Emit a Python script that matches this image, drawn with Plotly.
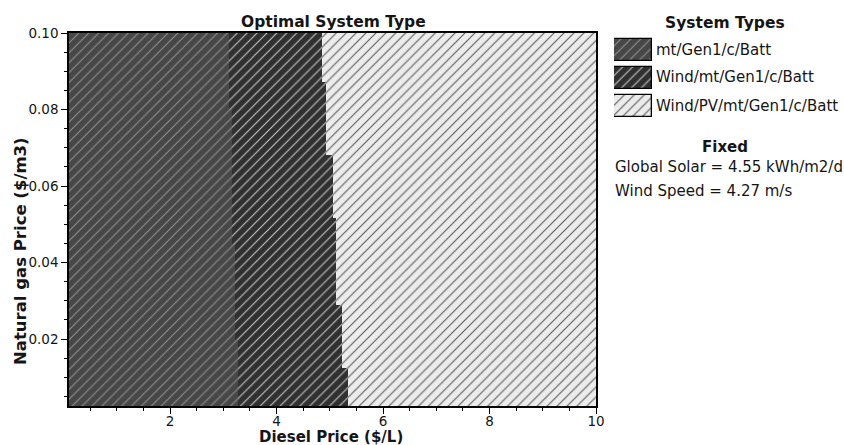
import plotly.graph_objects as go

# Sensitivity grid: natural gas price bands ($/m3), bottom to top
gas_band_edges = [0.0025, 0.0124, 0.0197, 0.0289, 0.0446, 0.0516, 0.0681, 0.0799, 0.0872, 0.10]
# Diesel price ($/L) at which Wind/mt/Gen1/c/Batt becomes optimal, per band
diesel_to_wind = [3.27, 3.27, 3.22, 3.22, 3.16, 3.16, 3.16, 3.10, 3.10]
# Diesel price ($/L) at which Wind/PV/mt/Gen1/c/Batt becomes optimal, per band
diesel_to_wind_pv = [5.34, 5.23, 5.23, 5.12, 5.12, 5.05, 4.93, 4.93, 4.85]

diesel_range = [0.1, 10]
gas_range = [0.0025, 0.10]
x_ticks = [2, 4, 6, 8, 10]
y_ticks = [0.02, 0.04, 0.06, 0.08, 0.10]
y_tick_text = ["0.02", "0.04", "0.06", "0.08", "0.10"]

system_types = ["mt/Gen1/c/Batt", "Wind/mt/Gen1/c/Batt", "Wind/PV/mt/Gen1/c/Batt"]
bg_colors = ["#474747", "#303030", "#ececec"]
hatch_colors = ["#8e8e8e", "#c4c4c4", "#5c5c5c"]

fixed_values = ["Global Solar = 4.55 kWh/m2/d", "Wind Speed = 4.27 m/s"]

W, H = 844, 445


def px(x):
    return x / W


def py(y):
    return 1 - y / H


FONT = "DejaVu Sans"
TXT = "#151515"

mids = [(a + b) / 2 for a, b in zip(gas_band_edges[:-1], gas_band_edges[1:])]
heights = [b - a for a, b in zip(gas_band_edges[:-1], gas_band_edges[1:])]

starts = [
    [diesel_range[0]] * len(mids),
    diesel_to_wind,
    diesel_to_wind_pv,
]
ends = [
    diesel_to_wind,
    diesel_to_wind_pv,
    [diesel_range[1]] * len(mids),
]


def pattern(i):
    return dict(shape="/", fgcolor=hatch_colors[i], bgcolor=bg_colors[i],
                size=7, solidity=0.16, fillmode="overlay", fgopacity=1)


fig = go.Figure()

for i, name in enumerate(system_types):
    fig.add_trace(go.Bar(
        orientation="h",
        y=mids,
        x=[e - s for s, e in zip(starts[i], ends[i])],
        base=starts[i],
        width=heights,
        name=name,
        marker=dict(color=bg_colors[i], line=dict(width=0), pattern=pattern(i)),
        showlegend=False,
        hoverinfo="skip",
        xaxis="x", yaxis="y",
    ))

# Legend swatches on their own small axes
for i, name in enumerate(system_types):
    fig.add_trace(go.Bar(
        orientation="h",
        y=[len(system_types) - i],
        x=[1],
        base=[0],
        width=[0.77],
        marker=dict(color=bg_colors[i], line=dict(width=1.3, color="#000000"),
                    pattern=pattern(i)),
        showlegend=False,
        hoverinfo="skip",
        xaxis="x2", yaxis="y2",
    ))

axis_common = dict(
    showgrid=False, zeroline=False, showline=True, mirror=True,
    linecolor="#000000", linewidth=1.5,
    ticks="outside", ticklen=6, tickwidth=1, tickcolor="#000000",
    tickfont=dict(family=FONT, size=13.5, color=TXT),
    automargin=False,
)

fig.update_layout(
    width=W, height=H,
    margin=dict(l=0, r=0, t=0, b=0),
    paper_bgcolor="white", plot_bgcolor="white",
    barmode="overlay", bargap=0,
    showlegend=False,
    xaxis=dict(
        domain=[px(69), px(596)], range=diesel_range,
        tickvals=x_ticks, ticklabelstandoff=-4,
        minor=dict(dtick=0.5, ticklen=3, ticks="outside", tickcolor="#000000"),
        **axis_common,
    ),
    yaxis=dict(
        domain=[py(406), py(33)], range=gas_range,
        tickvals=y_ticks, ticktext=y_tick_text,
        minor=dict(dtick=0.005, ticklen=3, ticks="outside", tickcolor="#000000"),
        **axis_common,
    ),
    xaxis2=dict(domain=[px(614), px(652)], range=[0, 1], visible=False, fixedrange=True),
    yaxis2=dict(domain=[py(120), py(36)], range=[0.5, 3.5], visible=False, fixedrange=True),
)

annotations = [
    dict(text="<b>Optimal System Type</b>", x=px(333), y=py(21.5), size=15.5),
    dict(text="<b>Diesel Price ($/L)</b>", x=px(331), y=py(437), size=15),
    dict(text="<b>Natural gas Price ($/m3)</b>", x=px(20), y=py(251), size=16.5, textangle=-90),
    dict(text="<b>System Types</b>", x=px(725), y=py(23), size=15.5),
    dict(text="<b>Fixed</b>", x=px(725), y=py(147), size=15),
]
for a in annotations:
    fig.add_annotation(
        text=a["text"], x=a["x"], y=a["y"], xref="paper", yref="paper",
        xanchor="center", yanchor="middle", showarrow=False,
        textangle=a.get("textangle", 0),
        font=dict(family=FONT, size=a["size"], color=TXT),
    )

legend_y = [50, 77.5, 106]
for name, yy in zip(system_types, legend_y):
    fig.add_annotation(
        text=name, x=px(654), y=py(yy), xref="paper", yref="paper",
        xanchor="left", yanchor="middle", showarrow=False,
        font=dict(family=FONT, size=15, color=TXT),
    )

for txt, yy in zip(fixed_values, [167, 191]):
    fig.add_annotation(
        text=txt, x=px(613), y=py(yy), xref="paper", yref="paper",
        xanchor="left", yanchor="middle", showarrow=False,
        font=dict(family=FONT, size=15, color=TXT),
    )

fig.write_html("out.html")
